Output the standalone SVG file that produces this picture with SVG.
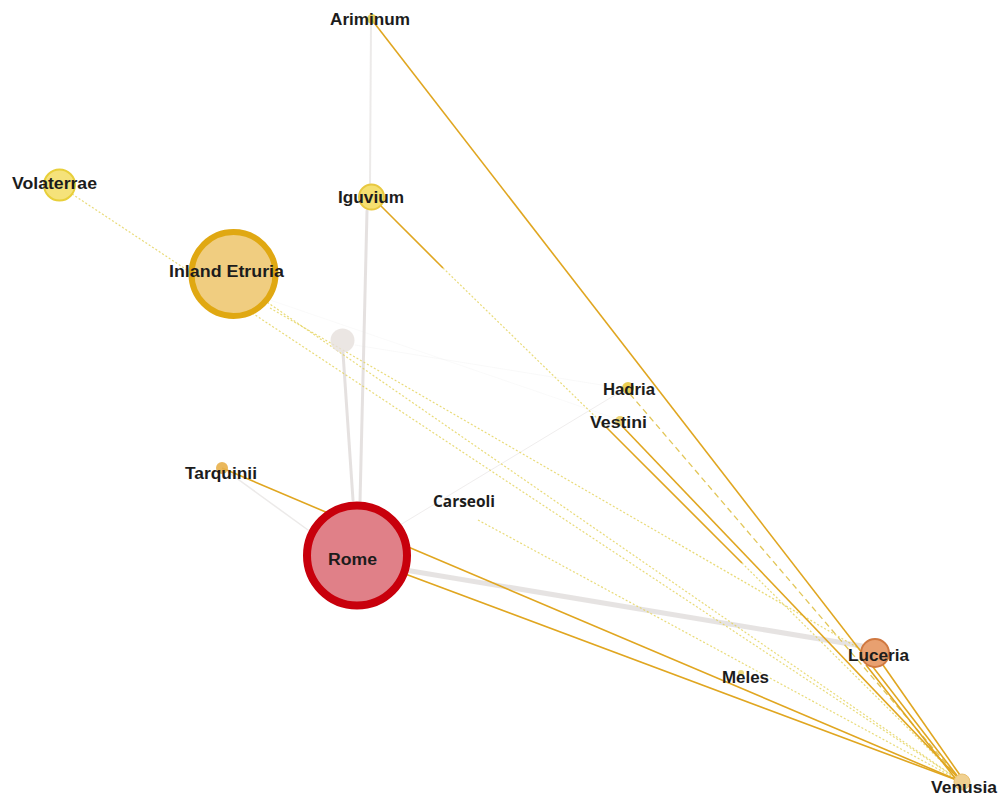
<svg xmlns="http://www.w3.org/2000/svg" width="1005" height="798" viewBox="0 0 1005 798">
<style>
.lbl{font-family:"Liberation Sans",Arial,sans-serif;font-weight:bold;font-size:16px;fill:#1c1c1c;text-anchor:middle;}
.gray{stroke:#e0dcdb;fill:none;stroke-linecap:round;}
.solid{stroke:#e0a620;fill:none;stroke-width:1.6;}
.dot{stroke:#e4d258;fill:none;stroke-width:1.2;stroke-dasharray:2 2;opacity:0.8;}
.dash{stroke:#e2c658;fill:none;stroke-width:1.3;stroke-dasharray:6 4;}
</style>
<rect width="1005" height="798" fill="#ffffff"/>
<g id="connectors">
  <line class="gray" x1="371" y1="24" x2="370" y2="184" stroke-width="2" opacity="0.6"/>
  <line class="gray" x1="367" y1="211" x2="360" y2="502" stroke-width="3" opacity="0.85"/>
  <line class="gray" x1="343" y1="353" x2="353" y2="500" stroke-width="3" opacity="0.85"/>
  <line class="gray" x1="228" y1="472" x2="308" y2="530" stroke-width="1.5" opacity="0.6"/>
  <line class="gray" x1="400" y1="525" x2="620" y2="392" stroke-width="1" opacity="0.5"/>
  <line class="gray" x1="355" y1="345" x2="620" y2="388" stroke-width="1" opacity="0.18"/>
  <line class="gray" x1="270" y1="300" x2="620" y2="420" stroke-width="1" opacity="0.15"/>
  <line class="gray" x1="405" y1="570" x2="862" y2="646" stroke-width="5" opacity="0.8"/>
  <line class="dot" x1="72" y1="194" x2="962" y2="782"/>
  <line class="dot" x1="264" y1="300" x2="962" y2="782"/>
  <line class="dot" x1="478" y1="520" x2="962" y2="782"/>
  <line class="dot" x1="270" y1="308" x2="862" y2="650" opacity="0.4"/>
  <line class="dot" x1="443" y1="268" x2="606" y2="427" opacity="0.4"/>
  <line class="dot" x1="742" y1="563" x2="962" y2="782" opacity="0.6"/>
  <line class="dash" x1="630" y1="394" x2="962" y2="782"/>
  <line class="solid" x1="372" y1="20" x2="962" y2="782"/>
  <line class="solid" x1="378" y1="203" x2="443" y2="268" stroke="#e2c040"/>
  <line class="solid" x1="606" y1="427" x2="742" y2="563"/>
  <line class="solid" x1="622" y1="426" x2="962" y2="782" stroke="#dca020"/>
  <line class="solid" x1="222" y1="468" x2="962" y2="782" stroke="#d4901a" stroke-width="2"/>
  <line class="solid" x1="357" y1="556" x2="962" y2="782" stroke="#d89a1c" stroke-width="1.8"/>
  <line class="solid" x1="866" y1="665" x2="955" y2="778" stroke="#d8a020" stroke-width="1.8"/>
  <line class="solid" x1="883" y1="665" x2="962" y2="778" stroke="#d8a020" stroke-width="1.8"/>
</g>
<g id="node-ariminum">
  <circle cx="372" cy="19" r="5" fill="#e0c848" opacity="0.85"/>
  <text class="lbl" x="370" y="25" textLength="80" lengthAdjust="spacingAndGlyphs">Ariminum</text>
</g>
<g id="node-volaterrae">
  <circle cx="59.5" cy="185" r="15.5" fill="#f5e27a" stroke="#e8cf3a" stroke-width="2"/>
  <text class="lbl" x="54.5" y="189" textLength="85" lengthAdjust="spacingAndGlyphs">Volaterrae</text>
</g>
<g id="node-iguvium">
  <circle cx="371.5" cy="197" r="12.5" fill="#f5e070" stroke="#e8c840" stroke-width="2"/>
  <text class="lbl" x="371" y="203" textLength="66" lengthAdjust="spacingAndGlyphs">Iguvium</text>
</g>
<g id="node-inland-etruria">
  <circle cx="233.5" cy="274" r="42" fill="#f0cd80" stroke="#e0a812" stroke-width="6"/>
  <text class="lbl" x="226.5" y="277" textLength="115" lengthAdjust="spacingAndGlyphs">Inland Etruria</text>
</g>
<g id="node-unlabelled">
  <circle cx="342.5" cy="340.5" r="12" fill="#e6e0dc" opacity="0.8"/>
</g>
<g id="node-hadria">
  <circle cx="628" cy="388" r="6" fill="#e8c840" opacity="0.9"/>
  <text class="lbl" x="629" y="395" textLength="52" lengthAdjust="spacingAndGlyphs">Hadria</text>
</g>
<g id="node-vestini">
  <circle cx="620" cy="421" r="5" fill="#e8c850" opacity="0.8"/>
  <text class="lbl" x="618.5" y="428" textLength="57" lengthAdjust="spacingAndGlyphs">Vestini</text>
</g>
<g id="node-tarquinii">
  <circle cx="222" cy="468" r="6" fill="#e8b04a" opacity="0.9"/>
  <text class="lbl" x="221" y="479" textLength="72" lengthAdjust="spacingAndGlyphs">Tarquinii</text>
</g>
<g id="node-carseoli">
  <text class="lbl" x="464" y="507" textLength="62" lengthAdjust="spacingAndGlyphs" style="font-family:'Open Sans','Liberation Sans',sans-serif">Carseoli</text>
</g>
<g id="node-rome">
  <circle cx="357" cy="555.5" r="50" fill="#e08088" stroke="#c8000c" stroke-width="8"/>
  <text class="lbl" x="352.5" y="565" textLength="49" lengthAdjust="spacingAndGlyphs">Rome</text>
</g>
<g id="node-luceria">
  <circle cx="875" cy="653" r="14" fill="#e8a070" stroke="#d07840" stroke-width="2"/>
  <text class="lbl" x="878.5" y="661" textLength="61" lengthAdjust="spacingAndGlyphs">Luceria</text>
</g>
<g id="node-meles">
  <circle cx="741" cy="673" r="3" fill="#e8d060" opacity="0.8"/>
  <text class="lbl" x="745.5" y="683" textLength="47" lengthAdjust="spacingAndGlyphs">Meles</text>
</g>
<g id="node-venusia">
  <circle cx="962" cy="782" r="8" fill="#f0d090" stroke="#e8c070" stroke-width="1"/>
  <text class="lbl" x="964" y="793" textLength="66" lengthAdjust="spacingAndGlyphs">Venusia</text>
</g>
</svg>
